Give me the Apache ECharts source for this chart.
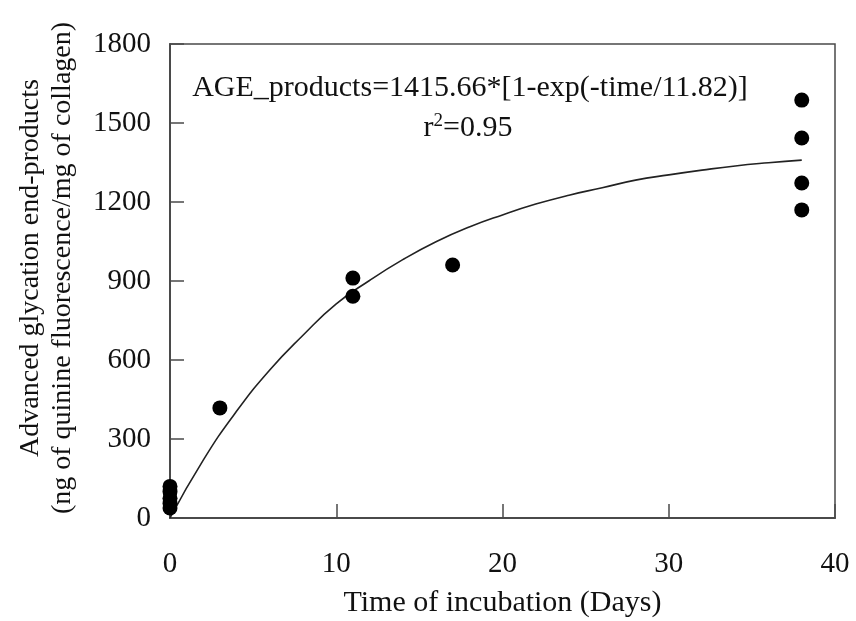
<!DOCTYPE html>
<html>
<head>
<meta charset="utf-8">
<script src="https://cdn.jsdelivr.net/npm/echarts@6/dist/echarts.min.js"></script>
<style>html,body{margin:0;padding:0;background:#fff}#c{width:856px;height:621px}</style>
</head>
<body>
<div id="c"></div>
<script>
// Observed data (days, AGE products)
var obsDays   = [0, 0, 0, 0, 0, 3, 11, 11, 17, 38, 38, 38, 38];
var obsValues = [120, 100, 75, 55, 38, 418, 911, 842, 961, 1587, 1443, 1272, 1170];
// Fitted curve
var fitDays   = [0, 2, 4, 6, 8, 10, 12, 14, 16, 18, 20, 22, 24, 26, 28, 30, 32, 34, 36, 38];
var fitValues = [0, 220, 405, 562, 694, 813, 902, 981, 1049, 1105, 1151, 1192, 1226, 1254, 1283, 1303, 1321, 1337, 1349, 1359];
var xTicks = [0, 10, 20, 30, 40];
var yTicks = [0, 300, 600, 900, 1200, 1500, 1800];
var xTitle = 'Time of incubation (Days)';
var yTitle1 = 'Advanced glycation end-products';
var yTitle2 = '(ng of quinine fluorescence/mg of collagen)';
var eqText = 'AGE_products=1415.66*[1-exp(-time/11.82)]';
var r2Label = 'r', r2Sup = '2', r2Val = '=0.95';

var FONT = '"Liberation Serif","Times New Roman",serif';
var TXT = '#111';
var AX = '#4a4a4a';

var chart = echarts.init(document.getElementById('c'), null, {renderer: 'canvas'});
chart.setOption({
  animation: false,
  backgroundColor: '#fff',
  grid: {left: 170, right: 21, top: 44, bottom: 103, containLabel: false, outerBoundsMode: 'none',
         show: true, borderColor: AX, borderWidth: 1.5, backgroundColor: 'transparent'},
  xAxis: {
    type: 'value', min: xTicks[0], max: xTicks[xTicks.length - 1], interval: 10,
    axisLine: {show: true, lineStyle: {color: AX, width: 2}},
    axisTick: {show: true, inside: true, length: 14, lineStyle: {color: AX, width: 1.5}},
    axisLabel: {color: TXT, fontFamily: FONT, fontSize: 29, margin: 32, formatter: function (v) { return String(v); }},
    splitLine: {show: false},
    name: xTitle, nameLocation: 'middle', nameGap: 70,
    nameTextStyle: {color: TXT, fontFamily: FONT, fontSize: 30}
  },
  yAxis: {
    type: 'value', min: yTicks[0], max: yTicks[yTicks.length - 1], interval: 300,
    axisLine: {show: true, lineStyle: {color: AX, width: 2}},
    axisTick: {show: true, inside: true, length: 14, lineStyle: {color: AX, width: 1.5}},
    axisLabel: {color: TXT, fontFamily: FONT, fontSize: 29, margin: 19, formatter: function (v) { return String(v); }},
    splitLine: {show: false}
  },
  series: [
    {
      type: 'line', data: fitDays.map(function (d, i) { return [d, fitValues[i]]; }),
      smooth: true, showSymbol: false, symbol: 'none',
      lineStyle: {color: '#222', width: 1.6}, z: 2
    },
    {
      type: 'scatter', data: obsDays.map(function (d, i) { return [d, obsValues[i]]; }),
      symbol: 'circle', symbolSize: 15, itemStyle: {color: '#000', opacity: 1}, z: 3
    }
  ],
  graphic: [
    {type: 'text', x: 470, y: 88, z: 10,
     style: {text: eqText, fill: TXT, font: '30px ' + FONT, textAlign: 'center', textVerticalAlign: 'middle'}},
    {type: 'text', x: 468, y: 128, z: 10,
     style: {text: '{a|' + r2Label + '}{s|' + r2Sup + '}{a|' + r2Val + '}', fill: TXT, align: 'center', verticalAlign: 'middle',
       rich: {a: {fontFamily: FONT, fontSize: 30, fill: TXT, color: TXT},
              s: {fontFamily: FONT, fontSize: 19, verticalAlign: 'top', color: TXT, padding: [0, 0, 14, 0]}}}},
    {type: 'text', x: 31, y: 268, rotation: Math.PI / 2, z: 10,
     style: {text: yTitle1, fill: TXT, font: '28px ' + FONT, textAlign: 'center', textVerticalAlign: 'middle'}},
    {type: 'text', x: 63, y: 268, rotation: Math.PI / 2, z: 10,
     style: {text: yTitle2, fill: TXT, font: '28px ' + FONT, textAlign: 'center', textVerticalAlign: 'middle'}}
  ]
});
</script>
</body>
</html>
